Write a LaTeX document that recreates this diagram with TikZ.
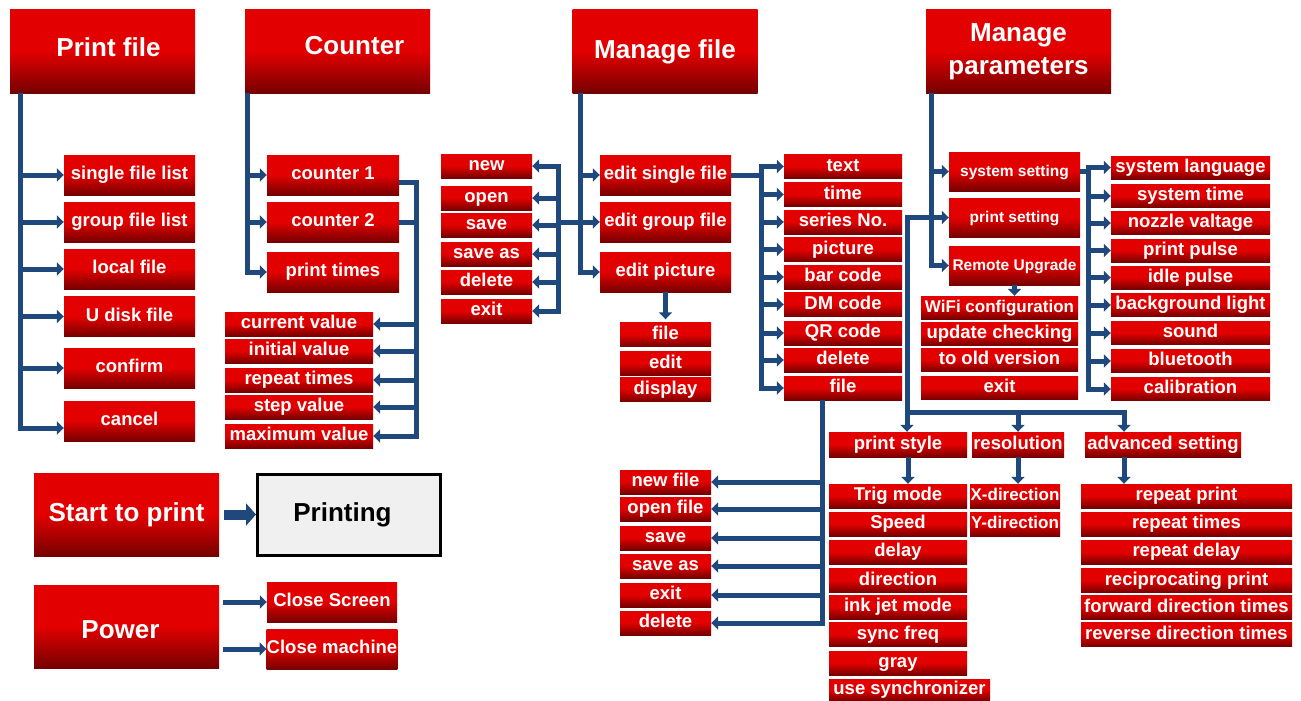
\documentclass[tikz,border=0pt]{standalone}
\usepackage{fontspec}
\setmainfont{Liberation Sans}
\usetikzlibrary{arrows.meta}
\definecolor{menured}{RGB}{226,0,0}
\definecolor{menudark}{RGB}{118,0,0}
\definecolor{linkblue}{RGB}{31,73,125}
\definecolor{stategray}{RGB}{240,240,240}
\tikzset{%
  menubox/.style   = {shape=rectangle, inner sep=0pt, align=center, text=white,%
                      top color=menured, bottom color=menudark, middle color=menured},%
  headbox/.style   = {menubox, minimum width=185pt, minimum height=83pt,%
                      text height=18.6pt, text depth=5.5pt,%
                      font=\fontsize{26pt}{33pt}\selectfont\bfseries},%
  subbox/.style    = {menubox, minimum width=131pt, minimum height=40pt,%
                      text height=13.3pt, text depth=3.9pt,%
                      font=\fontsize{18.5pt}{20pt}\selectfont\bfseries},%
  leafbox/.style   = {menubox, minimum height=24pt,%
                      text height=13.3pt, text depth=3.9pt,%
                      font=\fontsize{18.5pt}{20pt}\selectfont\bfseries},%
  statebox/.style  = {draw=black, line width=3pt, fill=stategray, inner sep=0pt,%
                      minimum width=183pt, minimum height=81pt,%
                      text height=18.6pt, text depth=5.5pt,%
                      font=\fontsize{26pt}{30pt}\selectfont\bfseries},%
  link/.style      = {draw=linkblue, line width=5pt},%
  linkarrow/.style = {link, -{Triangle[length=7pt, width=13pt]}}%
}

\begin{document}
\begin{tikzpicture}[x=1pt, y=-1pt]
	\fill[white] (0,0) rectangle (1301,701);%
	\useasboundingbox (0,0) rectangle (1301,701);%
	% print file
	\node[headbox] (pfile) at (102.5,51.5) {\raisebox{1.5pt}{\hspace*{12pt}Print file}};%
	\foreach \n/\t/\y in {1/single file list/175, 2/group file list/222, 3/local file/269,%
	                      4/U disk file/316.5, 5/confirm/368, 6/cancel/421}%
		\node[subbox] (pf\n) at (129.5,\y) {\t};%
	\coordinate (ptrunk) at ([xshift=11pt]pfile.south west);%
	\foreach \n in {1,...,5}%
		\draw[linkarrow] (ptrunk) |- (pf\n.west);%
	\draw[linkarrow] (ptrunk) |- ([yshift=-7pt]pf6.west);%
	% counter
	\node[headbox] (cnt) at (337.5,51.5) {\raisebox{3.5pt}{\hspace*{34pt}Counter}};%
	\foreach \n/\t/\y in {1/counter 1/175, 2/counter 2/222, 3/print times/272}%
		\node[subbox, minimum width=132pt] (cnt\n) at (333,\y) {\t};%
	\coordinate (ctrunk) at ([xshift=3pt]cnt.south west);%
	\foreach \n in {1,2,3}%
		\draw[linkarrow] (ctrunk) |- (cnt\n.west);%
	\foreach \n/\t/\y in {1/current value/324, 2/initial value/351, 3/repeat times/380,%
	                      4/step value/407, 5/maximum value/436}%
		\node[leafbox, minimum width=148pt] (cv\n) at (299,\y) {\t};%
	\coordinate (cbus) at (416,182);%
	\draw[linkarrow] ([yshift=-7pt]cnt1.east) -- (cbus) |- (cv5.east);%
	\draw[link] (cnt2.east) -- (cbus |- cnt2.east);%
	\foreach \n in {1,...,4}%
		\draw[linkarrow] (cbus |- cv\n.east) -- (cv\n.east);%
	% manage file
	\node[headbox] (mfile) at (665,51.5) {Manage file};%
	\foreach \n/\t/\y in {1/edit single file/175, 2/edit group file/222, 3/edit picture/272}%
		\node[subbox] (mf\n) at (665.5,\y) {\t};%
	\coordinate (mtrunk) at ([xshift=8pt]mfile.south west);%
	\foreach \n in {1,2,3}%
		\draw[linkarrow] (mtrunk) |- (mf\n.west);%
	\foreach \n/\t/\y in {1/new/166, 2/open/198, 3/save/225, 4/save as/254, 5/delete/282, 6/exit/311}%
		\node[leafbox, minimum width=91pt] (fl\n) at (486.5,\y) {\t};%
	\coordinate (fbus) at (558,166);%
	\draw[link] (fbus |- mf2.west) -- (mtrunk |- mf2.west);%
	\draw[linkarrow] (fbus |- mf2.west) |- (fl1.east);%
	\draw[linkarrow] (fbus |- mf2.west) |- (fl6.east);%
	\foreach \n in {2,...,5}%
		\draw[linkarrow] (fbus |- fl\n.east) -- (fl\n.east);%
	\foreach \n/\t/\y in {1/file/334.5, 2/edit/363.5, 3/display/389.5}%
		\node[leafbox, minimum width=91pt] (ep\n) at (665.5,\y) {\t};%
	\draw[linkarrow] (mf3.south) -- ([yshift=3pt]ep1.north);%
	\foreach \n/\t/\y in {1/text/166.5, 2/time/194.5, 3/series No./222, 4/picture/249.5,%
	                      5/bar code/277, 6/DM code/304.5, 7/QR code/333, 8/delete/360, 9/file/388}%
		\node[leafbox, minimum width=118pt] (el\n) at (843,\y) {\t};%
	\coordinate (ebus) at (761,166.5);%
	\draw[link] (mf1.east) -- (ebus |- mf1.east);%
	\draw[linkarrow] (ebus |- el5.west) |- (el1.west);%
	\draw[linkarrow] (ebus |- el5.west) |- (el9.west);%
	\foreach \n in {2,...,8}%
		\draw[linkarrow] (ebus |- el\n.west) -- (el\n.west);%
	\foreach \n/\t/\y in {1/new file/482, 2/open file/509, 3/save/538, 4/save as/566,%
	                      5/exit/595, 6/delete/623}%
		\node[leafbox, minimum width=91pt] (fd\n) at (665.5,\y) {\t};%
	\coordinate (fdrop) at ([xshift=-21pt]el9.south);%
	\draw[linkarrow] (fdrop) |- (fd6.east);%
	\foreach \n in {1,...,5}%
		\draw[linkarrow] (fdrop |- fd\n.east) -- (fd\n.east);%
	% manage parameters
	\node[headbox, text height=, text depth=] (mparam) at (1018.5,51.5) {Manage\\parameters};%
	\foreach \n/\t/\y in {1/system setting/171.5, 2/print setting/217.5, 3/Remote Upgrade/265.5}%
		\node[subbox, minimum height=39pt, font=\fontsize{15.5pt}{17pt}\selectfont\bfseries]%
			(mp\n) at (1014.5,\y) {\t};%
	\coordinate (mptrunk) at ([xshift=6pt]mparam.south west);%
	\foreach \n in {1,3}%
		\draw[linkarrow] (mptrunk) |- (mp\n.west);%
	\node[leafbox, minimum width=157pt, minimum height=23pt, font=\fontsize{17pt}{19pt}\selectfont\bfseries]%
		(ru1) at (999.5,307.5) {WiFi configuration};%
	\foreach \n/\t/\y in {2/update checking/334, 3/to old version/360, 4/exit/388}%
		\node[leafbox, minimum width=157pt, minimum height=23pt] (ru\n) at (999.5,\y) {\t};%
	\draw[linkarrow] (mp3.south) -- (mp3.south |- ru1.north);%
	\foreach \n/\t/\y in {1/system language/167.5, 2/system time/196, 3/nozzle valtage/223,%
	                      4/print pulse/250.5, 5/idle pulse/277.5, 6/background light/305,%
	                      7/sound/333, 8/bluetooth/361, 9/calibration/389}%
		\node[leafbox, minimum width=159pt, minimum height=23pt] (sl\n) at (1190.5,\y) {\t};%
	\coordinate (sbus) at (1088,167.5);%
	\draw[link] (mp1.east) -- (sbus |- mp1.east);%
	\draw[linkarrow] (sbus |- sl5.west) |- (sl1.west);%
	\draw[linkarrow] (sbus |- sl5.west) |- (sl9.west);%
	\foreach \n in {2,...,8}%
		\draw[linkarrow] (sbus |- sl\n.west) -- (sl\n.west);%
	% print setting
	\node[leafbox, minimum width=138pt, minimum height=25pt] (pst) at (898,444.5) {print style};%
	\node[leafbox, minimum width=92pt, minimum height=25pt] (res) at (1018,444.5) {resolution};%
	\node[leafbox, minimum width=156pt, minimum height=25pt] (adv) at (1163,444.5) {advanced setting};%
	\coordinate (pbus) at (907,412);%
	\coordinate (pbusend) at (1124,412);%
	\draw[linkarrow] (pbusend) -- (pbus) |- (mp2.west);%
	\draw[linkarrow] (pbus) -- (pbus |- pst.north);%
	\draw[linkarrow] (pbus -| res.north) -- (res.north);%
	\draw[linkarrow] ([yshift=2.5pt]pbusend) -- (pbusend |- adv.north);%
	\foreach \n/\t/\y in {1/Trig mode/496, 2/Speed/524, 3/delay/552, 4/direction/580.5,%
	                      5/ink jet mode/607, 6/sync freq/634.5, 7/gray/663}%
		\node[leafbox, minimum width=138pt] (ps\n) at (898,\y) {\t};%
	\node[leafbox, minimum width=161pt, minimum height=22pt] (ps8) at (909.5,690) {use synchronizer};%
	\draw[linkarrow] ([xshift=10pt]pst.south) -- ([xshift=10pt]ps1.north);%
	\foreach \n/\t/\y in {1/X-direction/496, 2/Y-direction/524}%
		\node[leafbox, minimum width=90pt, font=\fontsize{17pt}{19pt}\selectfont\bfseries]%
			(rs\n) at (1015,\y) {\t};%
	\draw[linkarrow] (res.south) -- (res.south |- rs1.north);%
	\foreach \n/\t/\y in {1/repeat print/496, 2/repeat times/524, 3/repeat delay/552,%
	                      4/reciprocating print/580.5, 5/forward direction times/607.5,%
	                      6/reverse direction times/634.5}%
		\node[leafbox, minimum width=211pt] (ad\n) at (1186.5,\y) {\t};%
	\draw[linkarrow] (pbusend |- adv.south) -- (pbusend |- ad1.north);%
	% start / power
	\node[headbox] (start) at (126.5,514.5) {Start to print};%
	\node[statebox] (printing) at (349,514.5) {\hspace*{-13pt}Printing};%
	\draw[link, line width=10pt, -{Triangle[length=10pt, width=22pt]}]%
		([xshift=5pt]start.east) -- (printing.west);%
	\node[headbox] (power) at (126.5,626.5) {\raisebox{-5pt}{\hspace*{-12pt}Power}};%
	\node[subbox, minimum width=130pt] (cs1) at (332,602) {Close Screen};%
	\node[subbox, minimum width=130pt] (cs2) at (332,649) {Close machine};%
	\foreach \n in {1,2}%
		\draw[linkarrow] ([xshift=4pt]power.east |- cs\n.west) -- (cs\n.west);%
\end{tikzpicture}
\end{document}
